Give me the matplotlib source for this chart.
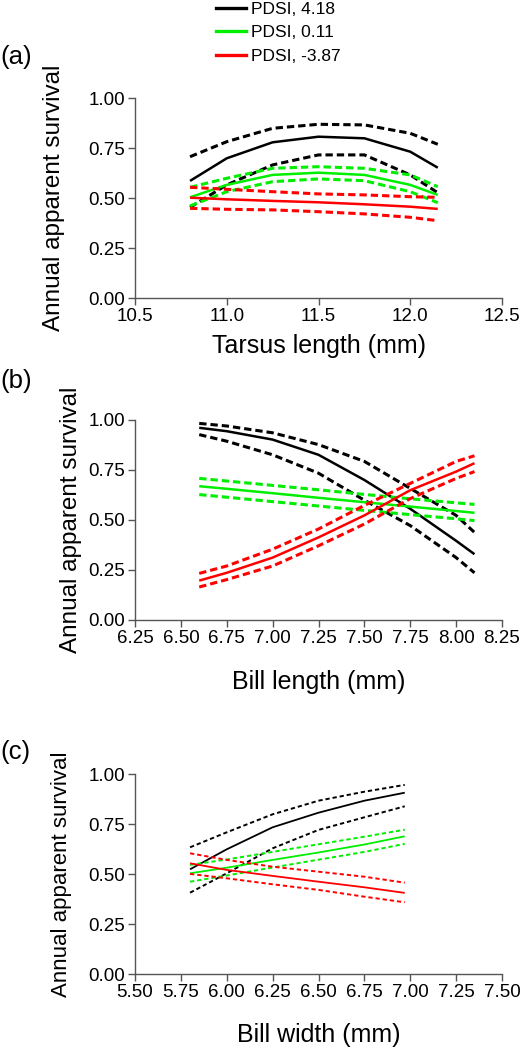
# IMPORTS
import matplotlib
matplotlib.use("Agg")
import matplotlib.pyplot as plt
from matplotlib.lines import Line2D

# CONSTANTS
FONT_FAMILY = ["Liberation Sans", "DejaVu Sans"]
SPINE_COLOR = "#555555"
SERIES_COLORS = ["#000000", "#00ee00", "#ff0000"]
SERIES_LABELS = ["PDSI, 4.18", "PDSI, 0.11", "PDSI, -3.87"]

plt.rcParams["font.family"] = FONT_FAMILY

# DATA
# (a) Tarsus length
tarsus_x = [10.8, 11.0, 11.25, 11.5, 11.75, 12.0, 12.15]
tarsus_wet = [0.587, 0.70, 0.78, 0.808, 0.80, 0.733, 0.653]
tarsus_wet_hi = [0.708, 0.783, 0.85, 0.87, 0.867, 0.825, 0.77]
tarsus_wet_lo = [0.455, 0.567, 0.667, 0.717, 0.717, 0.617, 0.528]
tarsus_mid = [0.505, 0.567, 0.617, 0.628, 0.617, 0.567, 0.517]
tarsus_mid_hi = [0.555, 0.60, 0.65, 0.658, 0.65, 0.617, 0.558]
tarsus_mid_lo = [0.462, 0.533, 0.583, 0.597, 0.588, 0.533, 0.478]
tarsus_dry = [0.503, 0.495, 0.487, 0.48, 0.47, 0.458, 0.447]
tarsus_dry_hi = [0.555, 0.545, 0.533, 0.522, 0.517, 0.508, 0.505]
tarsus_dry_lo = [0.45, 0.445, 0.442, 0.433, 0.422, 0.405, 0.388]

# (b) Bill length
bill_len_x = [6.6, 6.75, 7.0, 7.25, 7.5, 7.75, 8.0, 8.1]
bill_len_wet = [0.961, 0.944, 0.902, 0.826, 0.70, 0.556, 0.396, 0.329]
bill_len_wet_hi = [0.983, 0.97, 0.936, 0.877, 0.793, 0.658, 0.523, 0.438]
bill_len_wet_lo = [0.927, 0.894, 0.826, 0.734, 0.599, 0.472, 0.312, 0.236]
bill_len_mid = [0.669, 0.656, 0.634, 0.611, 0.589, 0.567, 0.545, 0.536]
bill_len_mid_hi = [0.708, 0.695, 0.673, 0.651, 0.628, 0.606, 0.586, 0.578]
bill_len_mid_lo = [0.627, 0.614, 0.592, 0.570, 0.548, 0.527, 0.506, 0.497]
bill_len_dry = [0.197, 0.236, 0.312, 0.413, 0.523, 0.649, 0.742, 0.784]
bill_len_dry_hi = [0.233, 0.27, 0.354, 0.455, 0.573, 0.683, 0.793, 0.821]
bill_len_dry_lo = [0.165, 0.202, 0.27, 0.371, 0.48, 0.607, 0.708, 0.742]

# (c) Bill width
bill_wid_x = [5.8, 6.0, 6.25, 6.5, 6.75, 6.97]
bill_wid_wet = [0.525, 0.625, 0.735, 0.808, 0.868, 0.908]
bill_wid_wet_hi = [0.635, 0.71, 0.80, 0.868, 0.913, 0.947]
bill_wid_wet_lo = [0.408, 0.505, 0.63, 0.722, 0.785, 0.84]
bill_wid_mid = [0.505, 0.533, 0.572, 0.609, 0.649, 0.69]
bill_wid_mid_hi = [0.547, 0.574, 0.612, 0.650, 0.688, 0.723]
bill_wid_mid_lo = [0.463, 0.494, 0.534, 0.573, 0.612, 0.652]
bill_wid_dry = [0.555, 0.522, 0.492, 0.463, 0.435, 0.407]
bill_wid_dry_hi = [0.605, 0.572, 0.538, 0.513, 0.488, 0.458]
bill_wid_dry_lo = [0.502, 0.48, 0.45, 0.422, 0.388, 0.36]

y_ticks = [0.0, 0.25, 0.5, 0.75, 1.0]

# PANEL SETUP
panels = [
    {
        "tag": "(a)", "x": tarsus_x,
        "series": [(tarsus_wet, tarsus_wet_hi, tarsus_wet_lo),
                   (tarsus_mid, tarsus_mid_hi, tarsus_mid_lo),
                   (tarsus_dry, tarsus_dry_hi, tarsus_dry_lo)],
        "xlim": (10.5, 12.5), "xticks": [10.5, 11.0, 11.5, 12.0, 12.5], "xfmt": "{:.1f}",
        "xlabel": "Tarsus length (mm)", "bottom": 751.7, "ylab_x": 54, "ylab_size": 17.5,
        "xlab_off": 48, "tag_y": 57, "lw": 1.8, "dash_lw": 2.2, "dashes": (2.4, 1.3),
    },
    {
        "tag": "(b)", "x": bill_len_x,
        "series": [(bill_len_wet, bill_len_wet_hi, bill_len_wet_lo),
                   (bill_len_mid, bill_len_mid_hi, bill_len_mid_lo),
                   (bill_len_dry, bill_len_dry_hi, bill_len_dry_lo)],
        "xlim": (6.25, 8.25), "xticks": [6.25, 6.5, 6.75, 7.0, 7.25, 7.5, 7.75, 8.0, 8.25], "xfmt": "{:.2f}",
        "xlabel": "Bill length (mm)", "bottom": 430.0, "ylab_x": 71, "ylab_size": 17.5,
        "xlab_off": 62, "tag_y": 381, "lw": 1.8, "dash_lw": 2.2, "dashes": (2.4, 1.3),
    },
    {
        "tag": "(c)", "x": bill_wid_x,
        "series": [(bill_wid_wet, bill_wid_wet_hi, bill_wid_wet_lo),
                   (bill_wid_mid, bill_wid_mid_hi, bill_wid_mid_lo),
                   (bill_wid_dry, bill_wid_dry_hi, bill_wid_dry_lo)],
        "xlim": (5.5, 7.5), "xticks": [5.5, 5.75, 6.0, 6.25, 6.5, 6.75, 7.0, 7.25, 7.5], "xfmt": "{:.2f}",
        "xlabel": "Bill width (mm)", "bottom": 75.7, "ylab_x": 62, "ylab_size": 16,
        "xlab_off": 61, "tag_y": 752, "lw": 1.3, "dash_lw": 1.4, "dashes": (2.2, 1.5),
    },
]

# GRAPH
W, H = 521, 1050
fig = plt.figure(figsize=(W / 100, H / 100), dpi=100)
fig.set_facecolor("white")

AX_LEFT, AX_W, AX_H = 135, 367, 200

for p in panels:
    ax = fig.add_axes([AX_LEFT / W, p["bottom"] / H, AX_W / W, AX_H / H])

    # Curves: solid estimate with dashed confidence bounds
    for color, (mid, hi, lo) in zip(SERIES_COLORS, p["series"]):
        ax.plot(p["x"], mid, color=color, lw=p["lw"], solid_capstyle="butt")
        for bound in (hi, lo):
            ax.plot(p["x"], bound, color=color, lw=p["dash_lw"], dashes=p["dashes"], dash_capstyle="butt")

    # Axes limits and ticks
    ax.set_xlim(*p["xlim"])
    ax.set_ylim(0, 1)
    ax.set_xticks(p["xticks"])
    ax.set_xticklabels([p["xfmt"].format(v) for v in p["xticks"]])
    ax.set_yticks(y_ticks)
    ax.set_yticklabels(["{:.2f}".format(v) for v in y_ticks])

    # Spines
    ax.spines["top"].set_visible(False)
    ax.spines["right"].set_visible(False)
    for side in ("left", "bottom"):
        ax.spines[side].set_color(SPINE_COLOR)
        ax.spines[side].set_linewidth(1.0)
        ax.spines[side].set_zorder(0.5)
    ax.tick_params(direction="out", length=5, width=1.0, color=SPINE_COLOR,
                   labelcolor="black", labelsize=13.5, pad=2)

    # Labels
    ax.set_xlabel(p["xlabel"], fontsize=18, va="center")
    ax.xaxis.set_label_coords(0.5, -p["xlab_off"] / AX_H)
    ax.set_ylabel("Annual apparent survival", fontsize=p["ylab_size"], va="center")
    ax.yaxis.set_label_coords((p["ylab_x"] - AX_LEFT) / AX_W, 0.5)

    fig.text(0.0, 1 - p["tag_y"] / H, p["tag"], fontsize=18.5, ha="left", va="center")

# Legend at the top of the figure
handles = [Line2D([], [], color=c, lw=2.4) for c in SERIES_COLORS]
fig.legend(handles, SERIES_LABELS, loc="upper left", bbox_to_anchor=(216 / W, 1 - 1.5 / H),
           frameon=False, fontsize=12.5, handlelength=1.75, handletextpad=0.25,
           labelspacing=0.5, borderpad=0.0, borderaxespad=0.0)

fig.savefig("out.png", dpi=100)
